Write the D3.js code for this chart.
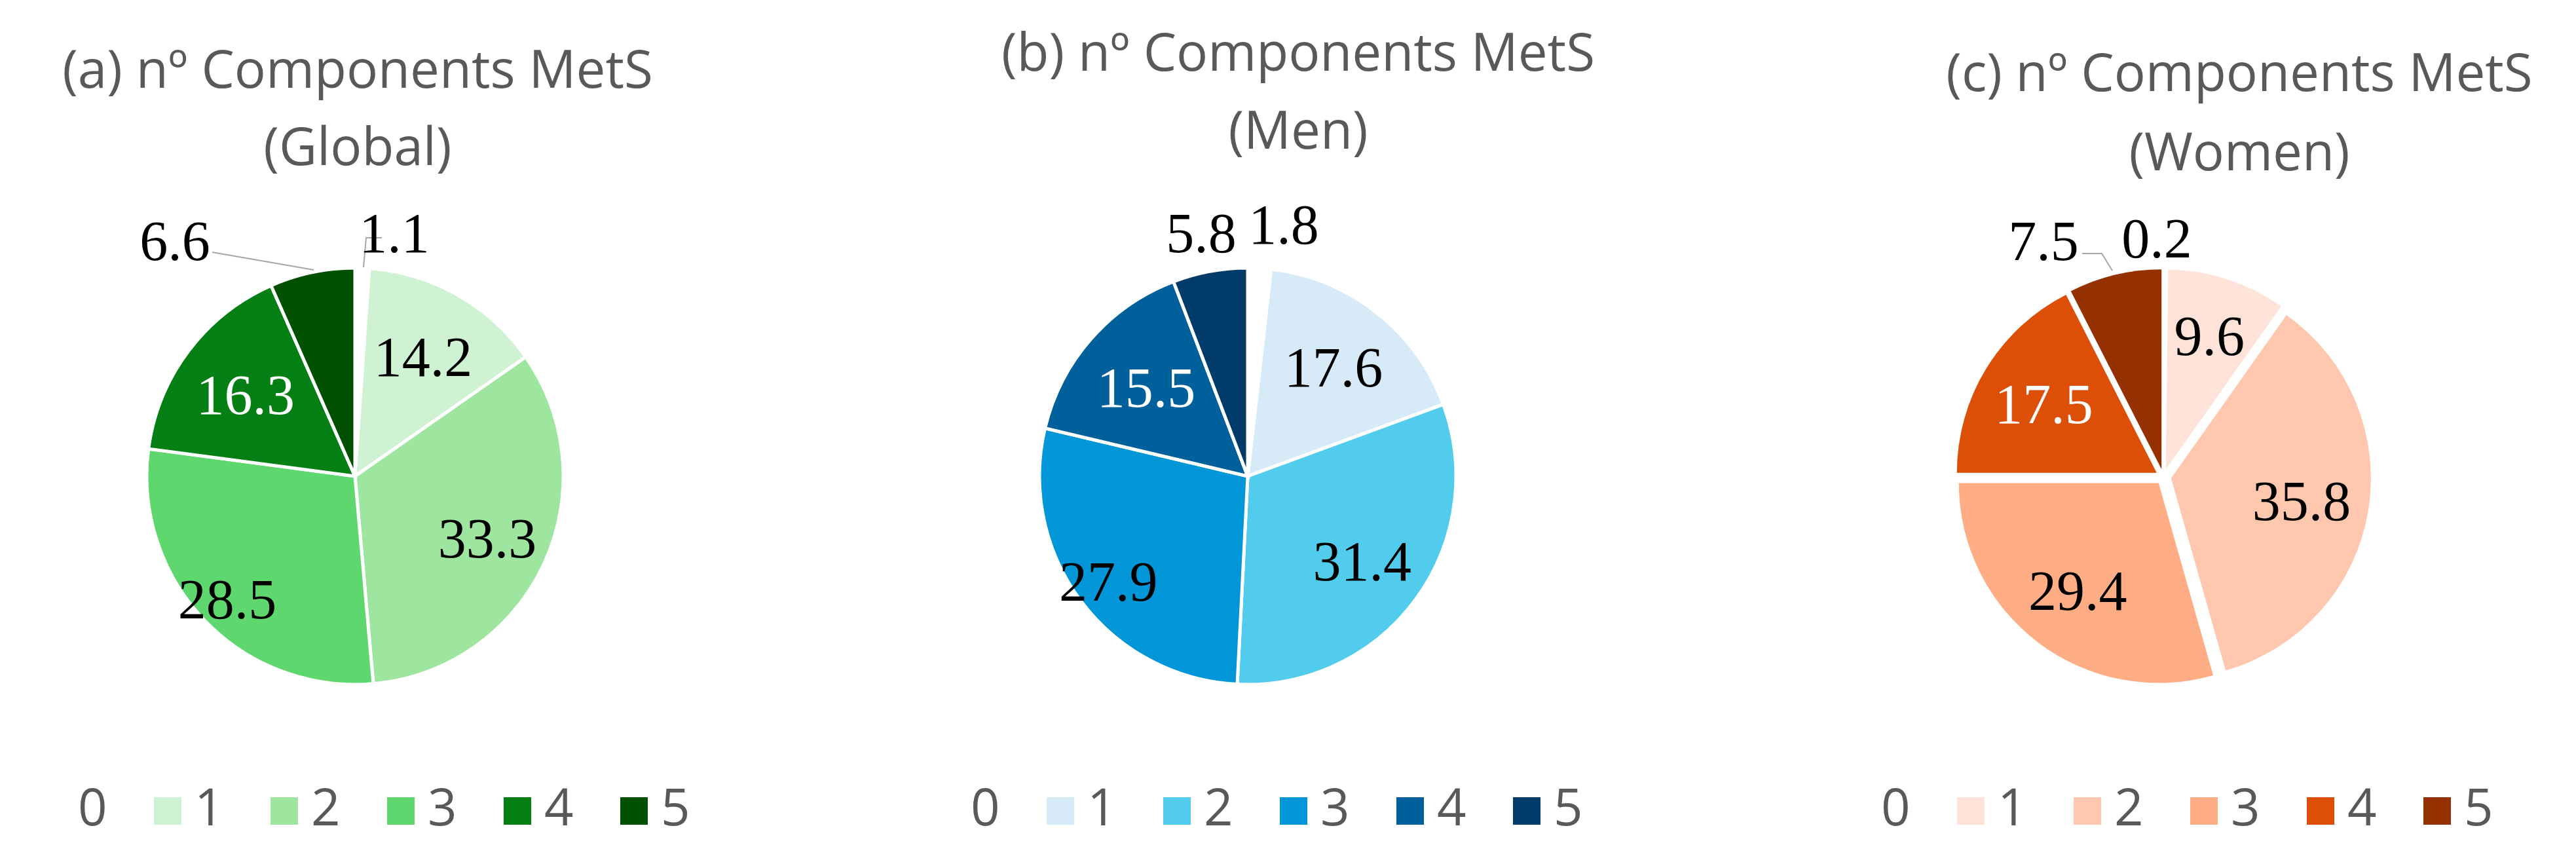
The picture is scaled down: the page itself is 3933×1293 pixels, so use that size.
<!DOCTYPE html>
<html><head><meta charset="utf-8">
<script src="https://cdn.jsdelivr.net/npm/d3@7"></script>
<style>body{margin:0;background:#fff}</style>
</head><body>
<svg id="c" width="3933" height="1293"></svg>
<script>
const categories = ["0","1","2","3","4","5"];
const globalValues = [1.1,14.2,33.3,28.5,16.3,6.6];
const menValues = [1.8,17.6,31.4,27.9,15.5,5.8];
const womenValues = [0.2,9.6,35.8,29.4,17.5,7.5];
const titles = [["(a) nº Components MetS","(Global)"],["(b) nº Components MetS","(Men)"],["(c) nº Components MetS","(Women)"]];
const greens = ["#ffffff","#CEF2D2","#9EE6A0","#5ED86E","#037F14","#005000"];
const blues = ["#ffffff","#D6EAF8","#52CCEC","#0096D8","#00609C","#003B6A"];
const oranges = ["#ffffff","#FFE3D8","#FFC8AE","#FFAD84","#DD4E06","#953000"];

const panels = [
 {values:globalValues, colors:greens, title:titles[0], cx:542, cy:727, r:318, explode:0, tx:546, ty:[134,252], lx:57,
  labDist:[null,211,223,270,209,null], out:{0:[60,-372],5:[-275,-360]},
  leaders:[[[41,-364],[17,-364],[13,-319]],[[-218,-342],[-63,-315]]]},
 {values:menValues, colors:blues, title:titles[1], cx:1905, cy:727, r:318, explode:0, tx:1982, ty:[108,227], lx:1420,
  labDist:[null,212,217,266,206,null], out:{0:[55,-385],5:[-71,-372]}, leaders:[]},
 {values:womenValues, colors:oranges, title:titles[2], cx:3303, cy:728, r:305, explode:12, tx:3419, ty:[139,260], lx:2810,
  labDist:[null,227,214,217,214,null], out:{0:[-10,-365],5:[-183,-361]},
  leaders:[[[-124,-341],[-94,-341],[-78,-315]]]}
];

const svg = d3.select("#c");
const pie = d3.pie().sort(null).value(d=>d);

panels.forEach(p=>{
  const g = svg.append("g");
  g.selectAll("text.t").data(p.title).enter().append("text")
    .attr("x",p.tx).attr("y",(d,i)=>p.ty[i]).attr("text-anchor","middle")
    .attr("font-family","Open Sans").attr("font-size",80).attr("fill","#595959").text(d=>d);
  const arcs = pie(p.values);
  const arc = d3.arc().innerRadius(0).outerRadius(p.r);
  const pg = g.append("g").attr("transform",`translate(${p.cx},${p.cy})`);
  pg.selectAll("path").data(arcs).enter().append("path")
    .attr("d",arc).attr("fill",(d,i)=>p.colors[i])
    .attr("stroke","#fff").attr("stroke-width",p.explode?0:5)
    .attr("transform",d=>{const a=(d.startAngle+d.endAngle)/2; return `translate(${Math.sin(a)*p.explode},${-Math.cos(a)*p.explode})`;});
  p.leaders.forEach(l=>{
    pg.append("path").attr("d",d3.line()(l)).attr("fill","none").attr("stroke","#a6a6a6").attr("stroke-width",2);
  });
  pg.selectAll("text.v").data(arcs).enter().append("text")
    .attr("transform",(d,i)=>{
      if(p.out[i]) return `translate(${p.out[i][0]},${p.out[i][1]})`;
      const a=(d.startAngle+d.endAngle)/2, r=p.labDist[i];
      return `translate(${Math.sin(a)*r},${-Math.cos(a)*r})`;
    })
    .attr("text-anchor","middle").attr("dy","0.35em")
    .attr("font-family","Liberation Serif").attr("font-size",86)
    .attr("fill",(d,i)=>i===4?"#fff":"#000").text(d=>d.data.toFixed(1));
  const lg = g.append("g");
  categories.forEach((c,i)=>{
    const x = p.lx + i*178;
    lg.append("rect").attr("x",x).attr("y",1217).attr("width",42).attr("height",42).attr("fill",p.colors[i]);
    lg.append("text").attr("x",x+62).attr("y",1260).attr("font-family","Open Sans").attr("font-size",78)
      .attr("fill","#595959").text(c);
  });
});
</script>
</body></html>
